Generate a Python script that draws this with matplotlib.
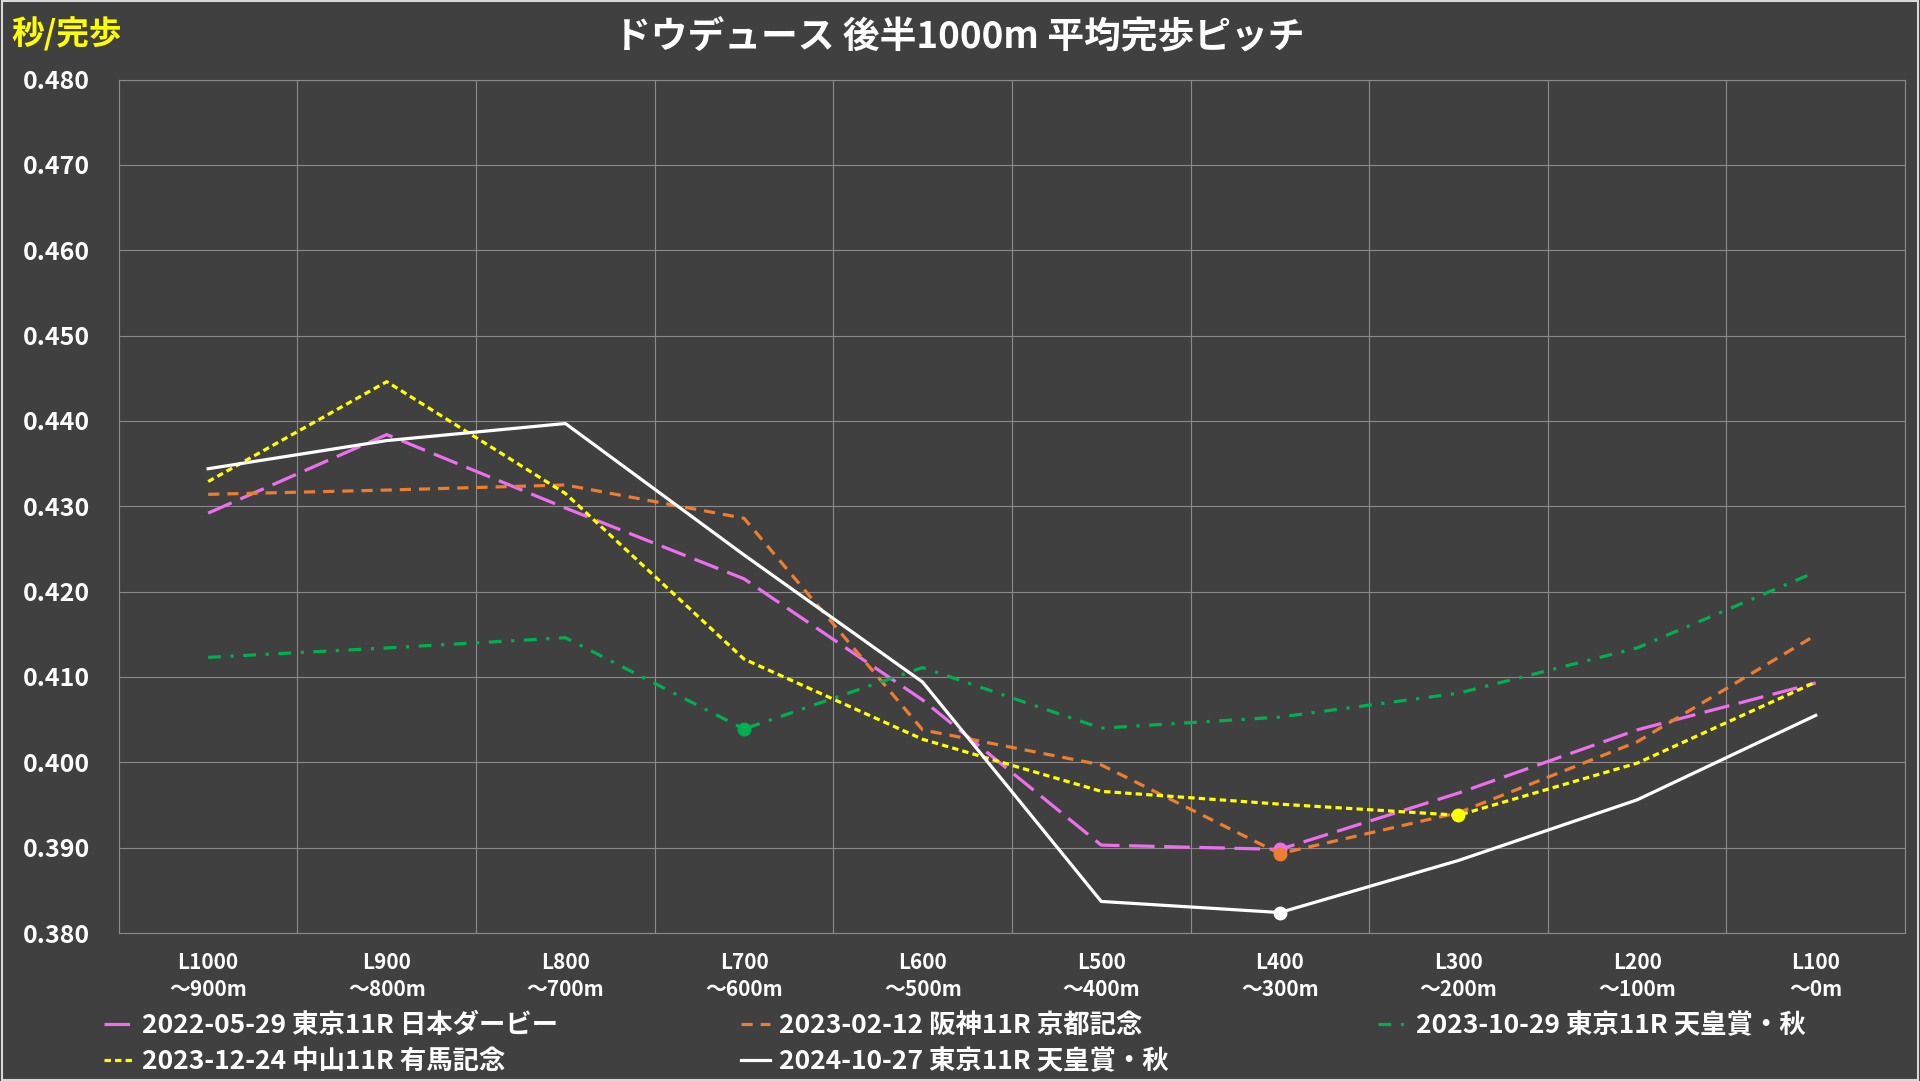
import numpy as np
import matplotlib
matplotlib.use("Agg")
import matplotlib.pyplot as plt
from matplotlib.patches import Rectangle
from matplotlib.ticker import FormatStrFormatter, FixedLocator

plt.rcParams['font.family'] = ['Noto Sans CJK JP', 'DejaVu Sans']
plt.rcParams['font.weight'] = 'bold'

sections = ['L1000\n～900m', 'L900\n～800m', 'L800\n～700m', 'L700\n～600m', 'L600\n～500m',
            'L500\n～400m', 'L400\n～300m', 'L300\n～200m', 'L200\n～100m', 'L100\n～0m']

derby_2022 = [0.4292, 0.4384, 0.4298, 0.4215, 0.4073, 0.3903, 0.3898, 0.3964, 0.4038, 0.4093]
kyoto_2023 = [0.4314, 0.4319, 0.4325, 0.4286, 0.4038, 0.3997, 0.3893, 0.3941, 0.4024, 0.4149]
tenno_2023 = [0.4123, 0.4134, 0.4146, 0.4039, 0.4111, 0.4040, 0.4053, 0.4081, 0.4134, 0.4223]
arima_2023 = [0.4329, 0.4446, 0.4315, 0.4121, 0.4027, 0.3966, 0.3951, 0.3938, 0.3999, 0.4094]
tenno_2024 = [0.4344, 0.4377, 0.4397, 0.4243, 0.4094, 0.3837, 0.3824, 0.3885, 0.3956, 0.4055]

names = ['2022-05-29 東京11R 日本ダービー', '2023-02-12 阪神11R 京都記念', '2023-10-29 東京11R 天皇賞・秋',
         '2023-12-24 中山11R 有馬記念', '2024-10-27 東京11R 天皇賞・秋']
series = [derby_2022, kyoto_2023, tenno_2023, arima_2023, tenno_2024]
colors = ['#EE6FEE', '#ED7D31', '#00B050', '#FFFF00', '#FFFFFF']
dash_list = [(8, 3), (3.5, 2.5), (4, 3, 1, 3), (2, 1.3), None]

bg = '#404040'
grid_c = '#8a8a8a'

fig = plt.figure(figsize=(19.2, 10.81), dpi=100, facecolor=bg)
ax = fig.add_axes([0.0619, 0.1369, 0.9303, 0.7895], facecolor=bg)

x = np.arange(len(sections))
handles = []
for vals, col, dsh, nm in zip(series, colors, dash_list, names):
    i_min = int(np.argmin(vals))
    if dsh is None:
        ln, = ax.plot(x, vals, color=col, lw=2.3, label=nm)
    else:
        ln, = ax.plot(x, vals, color=col, lw=2.3, dashes=dsh, label=nm)
    ax.plot(x[i_min], vals[i_min], 'o', color=col, ms=9, mec=col)
    handles.append(ln)

ax.set_xlim(-0.5, len(sections) - 0.5)
ax.set_ylim(0.380, 0.480)
ax.set_yticks(np.arange(0.380, 0.4801, 0.01))
ax.yaxis.set_major_formatter(FormatStrFormatter('%.3f'))
ax.set_xticks(x)
ax.set_xticklabels(sections, linespacing=1.35)
ax.xaxis.set_minor_locator(FixedLocator(np.arange(-0.5, len(sections), 1.0)))

ax.tick_params(axis='y', length=0, pad=21, labelsize=18, labelcolor='white')
ax.tick_params(axis='x', which='both', length=0, pad=14, labelsize=15, labelcolor='white')
ax.grid(True, axis='y', which='major', color=grid_c, lw=0.8)
ax.grid(True, axis='x', which='minor', color=grid_c, lw=0.8)
ax.set_axisbelow(True)
for s in ax.spines.values():
    s.set_color(grid_c)
    s.set_linewidth(0.8)

fig.text(0.4995, 0.965, 'ドウデュース 後半1000m 平均完歩ピッチ', color='white',
         fontsize=26.5, fontweight='bold', ha='center', va='center')
fig.text(0.006, 0.968, '秒/完歩', color='#FFFF00', fontsize=23.5, fontweight='bold',
         ha='left', va='center')

# legend in three columns
cols = [[0, 3], [1, 4], [2]]
col_x = [104 / 1920, 741 / 1920, 1378 / 1920]
for idxs, cx in zip(cols, col_x):
    fig.legend([handles[i] for i in idxs], [names[i] for i in idxs],
               loc='upper left', bbox_to_anchor=(cx, 1 - 1012 / 1081),
               frameon=False, fontsize=19, labelcolor='white', handlelength=1.1,
               handletextpad=0.35, borderpad=0, borderaxespad=0, labelspacing=0.34)

fig.patches.append(Rectangle((0.001, 0.001), 0.998, 0.998, transform=fig.transFigure,
                             fill=False, edgecolor='#d9d9d9', lw=1.5))

fig.savefig('out.png', dpi=100, facecolor=bg)
